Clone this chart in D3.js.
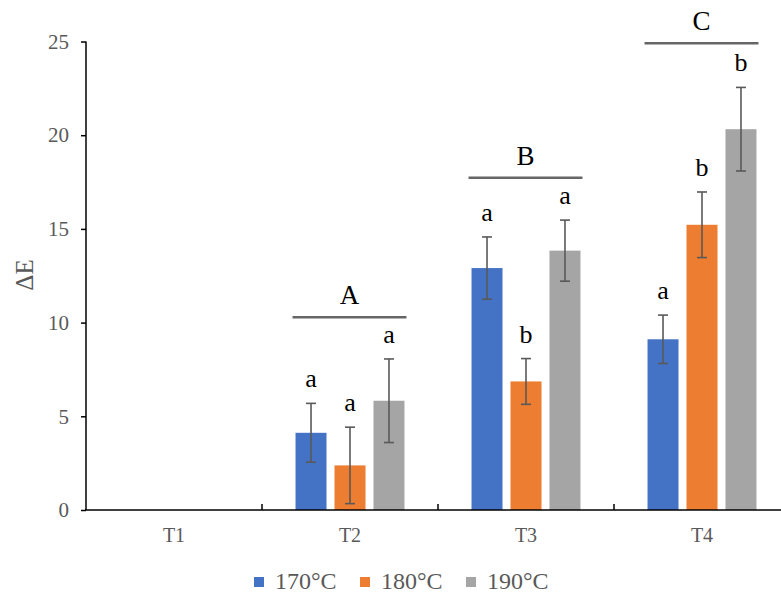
<!DOCTYPE html>
<html>
<head>
<meta charset="utf-8">
<script src="https://cdn.jsdelivr.net/npm/d3@7"></script>
<style>
  html, body { margin: 0; padding: 0; background: #fff; }
  svg { display: block; }
</style>
</head>
<body>
<svg id="chart" width="781" height="596"></svg>
<script>
// Treatment stages on the x axis
const categories = ["T1", "T2", "T3", "T4"];
// Temperature series
const seriesNames = ["170°C", "180°C", "190°C"];
const seriesColors = ["#4472C4", "#ED7D31", "#A5A5A5"];
// Mean ΔE per series (null = not measured)
const mean170 = [null, 4.12, 12.91, 9.11];
const mean180 = [null, 2.38, 6.86, 15.22];
const mean190 = [null, 5.83, 13.84, 20.32];
// Standard deviations
const sd170 = [null, 1.57, 1.66, 1.29];
const sd180 = [null, 2.04, 1.22, 1.75];
const sd190 = [null, 2.23, 1.63, 2.23];
// Significance letters within each stage
const sig170 = [null, "a", "a", "a"];
const sig180 = [null, "a", "b", "b"];
const sig190 = [null, "a", "a", "b"];
// Between-stage groups and the ΔE level of their bracket line
const groupLetters = [null, "A", "B", "C"];
const groupLevels = [null, 10.28, 17.73, 24.9];
// Y axis ticks
const yTicks = [0, 5, 10, 15, 20, 25];

const means = [mean170, mean180, mean190];
const sds = [sd170, sd180, sd190];
const sigs = [sig170, sig180, sig190];

const svg = d3.select("#chart");
const font = "'Liberation Serif', 'Times New Roman', serif";
const textGray = "#595959";

const x0 = d3.scaleBand().domain(categories).range([86, 790]).padding(0);
const x1 = d3.scaleBand().domain(seriesNames).range([0, x0.bandwidth()])
  .paddingInner(0.205).paddingOuter(0.86);
const y = d3.scaleLinear().domain([0, 25]).range([510, 41.5]);

// Flatten series into bar records
const bars = [];
seriesNames.forEach((s, si) => {
  categories.forEach((c, ci) => {
    if (means[si][ci] == null) return;
    bars.push({ cat: c, series: s, si, mean: means[si][ci], sd: sds[si][ci], sig: sigs[si][ci] });
  });
});

// Bars
svg.append("g").selectAll("rect").data(bars).join("rect")
  .attr("x", d => x0(d.cat) + x1(d.series))
  .attr("y", d => y(d.mean))
  .attr("width", x1.bandwidth())
  .attr("height", d => y(0) - y(d.mean))
  .attr("fill", d => seriesColors[d.si]);

// Error bars
const eb = svg.append("g").attr("stroke", "#595959").attr("stroke-width", 1.6);
bars.forEach(d => {
  const cx = x0(d.cat) + x1(d.series) + x1.bandwidth() / 2;
  const top = y(d.mean + d.sd), bot = y(d.mean - d.sd);
  eb.append("line").attr("x1", cx).attr("x2", cx).attr("y1", top).attr("y2", bot);
  eb.append("line").attr("x1", cx - 5).attr("x2", cx + 5).attr("y1", top).attr("y2", top);
  eb.append("line").attr("x1", cx - 5).attr("x2", cx + 5).attr("y1", bot).attr("y2", bot);
});

// Significance letters above error bars
svg.append("g").selectAll("text").data(bars).join("text")
  .attr("x", d => x0(d.cat) + x1(d.series) + x1.bandwidth() / 2)
  .attr("y", d => y(d.mean + d.sd) - 16)
  .attr("text-anchor", "middle")
  .attr("font-family", font).attr("font-size", 26).attr("fill", "#000")
  .text(d => d.sig);

// Group brackets and letters
categories.forEach((c, ci) => {
  if (groupLetters[ci] == null) return;
  const left = x0(c) + x1(seriesNames[0]) - 3;
  const right = x0(c) + x1(seriesNames[2]) + x1.bandwidth() + 2;
  const ly = y(groupLevels[ci]);
  svg.append("line").attr("x1", left).attr("x2", right).attr("y1", ly).attr("y2", ly)
    .attr("stroke", "#666666").attr("stroke-width", 2.5);
  svg.append("text").attr("x", (left + right) / 2).attr("y", ly - 13)
    .attr("text-anchor", "middle").attr("font-family", font).attr("font-size", 27)
    .attr("fill", "#000").text(groupLetters[ci]);
});

// Y axis
const yAxis = svg.append("g").attr("transform", "translate(86,0)")
  .call(d3.axisLeft(y).tickValues(yTicks).tickSize(5).tickPadding(12).tickFormat(d3.format("d")));
yAxis.select(".domain").attr("stroke", "#000").attr("stroke-width", 1.5).attr("d", `M0,${y(25)}V${y(0)}`);
yAxis.selectAll(".tick line").attr("stroke", "#000").attr("stroke-width", 1.5);
yAxis.selectAll(".tick text").attr("font-family", font).attr("font-size", 21).attr("fill", textGray);

// X axis with boundary ticks pointing up
const xAxisG = svg.append("g");
xAxisG.append("line").attr("x1", 85).attr("x2", 790).attr("y1", y(0)).attr("y2", y(0))
  .attr("stroke", "#000").attr("stroke-width", 1.5);
categories.forEach((c, ci) => {
  if (ci === 0) return;
  xAxisG.append("line").attr("x1", x0(c)).attr("x2", x0(c)).attr("y1", y(0)).attr("y2", y(0) - 6)
    .attr("stroke", "#000").attr("stroke-width", 1.5);
});
xAxisG.selectAll("text.cat").data(categories).join("text").attr("class", "cat")
  .attr("x", d => x0(d) + x0.bandwidth() / 2).attr("y", 542)
  .attr("text-anchor", "middle").attr("font-family", font).attr("font-size", 20)
  .attr("fill", textGray).text(d => d);

// Y axis title
svg.append("text").attr("transform", "translate(33,275) rotate(-90)")
  .attr("text-anchor", "middle").attr("font-family", font).attr("font-size", 25)
  .attr("fill", textGray).text("ΔE");

// Legend
const legendX = [254, 360, 466];
const lg = svg.append("g");
seriesNames.forEach((s, i) => {
  lg.append("rect").attr("x", legendX[i]).attr("y", 577).attr("width", 10).attr("height", 10)
    .attr("fill", seriesColors[i]);
  lg.append("text").attr("x", legendX[i] + 21).attr("y", 589)
    .attr("font-family", font).attr("font-size", 24).attr("fill", textGray).text(s);
});
</script>
</body>
</html>
